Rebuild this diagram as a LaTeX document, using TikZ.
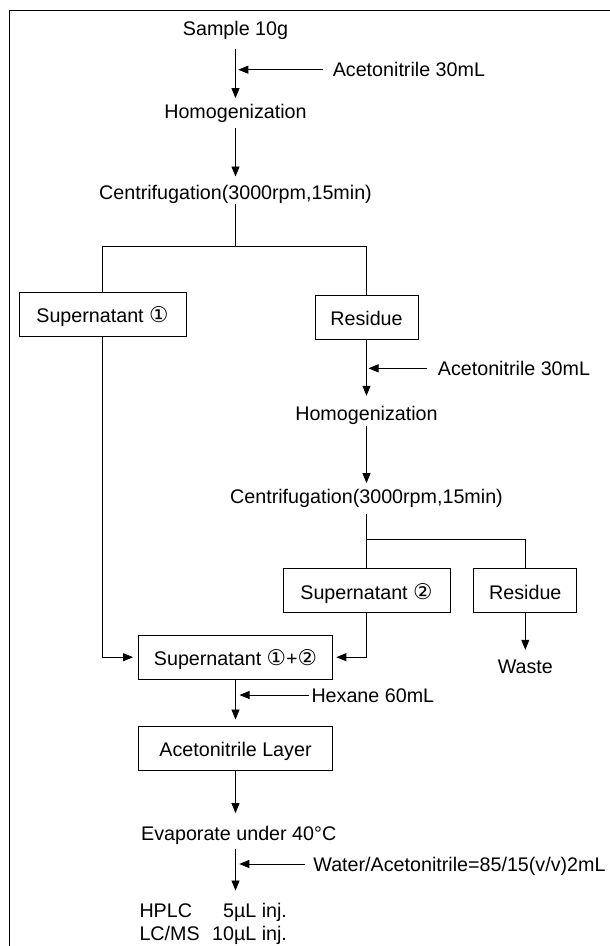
\documentclass[tikz,border=0pt]{standalone}
\usepackage{fontspec}
\setmainfont{Liberation Sans}
\newfontfamily\symfont[Scale=1.1]{DejaVu Sans}
\usetikzlibrary{arrows.meta}
\newcommand{\cnum}[1]{{\symfont #1}}
\begin{document}
\begin{tikzpicture}[x=1pt,y=-1pt,
  font=\fontsize{19.7}{22.5}\selectfont,
  txt/.style={inner sep=0pt,text height=14pt,text depth=0pt},
  box/.style={draw,line width=0.8pt,inner sep=0pt,text height=17pt,text depth=0pt},
  arr/.style={-{Triangle[length=10pt,width=8pt]},line width=0.8pt},
  ln/.style={line width=0.8pt}]
\useasboundingbox (0,0) rectangle (610,946);
\draw[line width=1.2pt] (9.3,946) -- (9.3,10.3) -- (610,10.3);
% nodes
\node[txt] (sample) at (235.5,28.5) {Sample 10g};
\node[txt,anchor=west] (acn1) at (332.6,69.7) {Acetonitrile 30mL};
\node[txt] (homog1) at (235.5,111.7) {Homogenization};
\node[txt] (cent1) at (235.5,192.7) {Centrifugation(3000rpm,15min)};
\node[box,minimum width=167pt,minimum height=43.7pt] (sup1) at (102.5,314.2) {Supernatant \cnum{①}};
\node[box,minimum width=103pt,minimum height=44pt] (res1) at (366.5,317) {Residue};
\node[txt,anchor=west] (acn2) at (437.7,368.3) {Acetonitrile 30mL};
\node[txt] (homog2) at (366.5,413.3) {Homogenization};
\node[txt] (cent2) at (366.5,496) {Centrifugation(3000rpm,15min)};
\node[box,minimum width=167pt,minimum height=44.4pt] (sup2) at (366.5,590.5) {Supernatant \cnum{②}};
\node[box,minimum width=103pt,minimum height=44.4pt] (res2) at (525.3,590.5) {Residue};
\node[txt] (waste) at (525.3,666.7) {Waste};
\node[box,minimum width=194pt,minimum height=43.7pt] (sup12) at (235.5,657.2) {Supernatant \cnum{①}+\cnum{②}};
\node[txt,anchor=west] (hex) at (311.3,695) {Hexane 60mL};
\node[box,minimum width=194pt,minimum height=43.3pt] (acnl) at (235.5,748.3) {Acetonitrile Layer};
\node[txt] (evap) at (238.7,833.3) {Evaporate under 40°C};
\node[txt,anchor=west] (water) at (313.2,864) {Water/Acetonitrile=85/15(v/v)2mL};
\node[inner sep=0pt,anchor=base west] (inj) at (139.3,917.5)
  {\begin{tabular}[t]{@{}l@{\hspace{12.4pt}}r@{}}HPLC & 5µL inj.\\LC/MS & 10µL inj.\end{tabular}};
\coordinate (sp1) at (235.5,246.7);
\coordinate (sp2) at (366.5,539.3);
% connectors
\draw[arr,shorten <=13.5pt,shorten >=6.4pt] (sample) -- (homog1);
\draw[arr,shorten <=9.6pt,shorten >=2.8pt] (acn1.west) -- (acn1.west -| sample);
\draw[arr,shorten <=8.6pt,shorten >=9pt] (homog1) -- (cent1);
\draw[ln,shorten <=4.3pt] (cent1) -- (sp1);
\draw[ln] (sup1.north) |- (sp1) -| (res1.north);
\draw[arr,shorten >=10.3pt] (res1) -- (homog2);
\draw[arr,shorten <=10.9pt,shorten >=2pt] (acn2.west) -- (acn2.west -| res1);
\draw[arr,shorten <=5.7pt,shorten >=5.7pt] (homog2) -- (cent2);
\draw[ln,shorten <=10.3pt] (cent2) -- (sup2);
\draw[ln] (sp2) -| (res2.north);
\draw[arr,shorten >=9.7pt] (res2) -- (waste);
\draw[arr,shorten >=5pt] (sup1.south) |- (sup12.west);
\draw[arr,shorten >=3.4pt] (sup2.south) |- (sup12.east);
\draw[arr,shorten >=6.7pt] (sup12) -- (acnl);
\draw[arr,shorten <=2pt,shorten >=4pt] (hex.west) -- (hex.west -| sup12);
\draw[arr,shorten >=13pt] (acnl.south) -- (acnl.south |- evap.north);
\draw[arr,shorten <=8pt,shorten >=11pt] (acnl.south |- evap.south) -- (acnl.south |- inj.north);
\draw[arr,shorten <=7.8pt,shorten >=3.8pt] (water.west) -- (water.west -| acnl);
\end{tikzpicture}
\end{document}
